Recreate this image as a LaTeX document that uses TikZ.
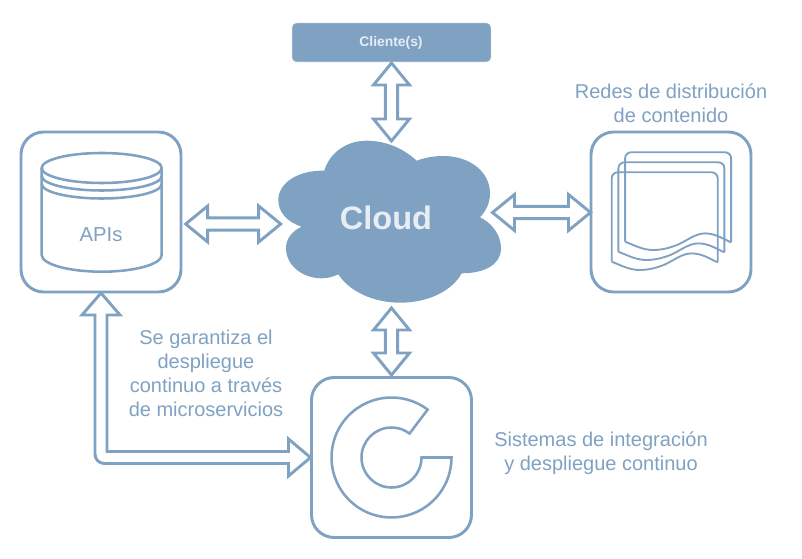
\documentclass[tikz,border=0pt]{standalone}
\usepackage{fontspec}
\setmainfont{Liberation Sans}
\usetikzlibrary{calc}
\definecolor{steel}{HTML}{7FA1C2}
\definecolor{paleink}{HTML}{E8EDF3}
\tikzset{
  panel/.style={draw=steel,line width=2.2pt,rounded corners=17pt,minimum width=120pt,minimum height=120pt,inner sep=0pt,outer sep=0pt,fill=white},
  clientbox/.style={fill=steel,draw=steel!70!white,line width=.5pt,rounded corners=3.5pt,minimum width=149pt,minimum height=29pt,inner sep=0pt,outer sep=0pt},
  clienttext/.style={text=paleink,font=\bfseries\fontsize{10.4}{12}\selectfont},
  cloudtext/.style={text=paleink,font=\bfseries\fontsize{24.4}{28}\selectfont,inner sep=0pt},
  caption/.style={text=steel,font=\fontsize{15}{18}\selectfont,align=center,inner sep=0pt},
  hollow/.style={draw=steel,line width=2.2pt,fill=white,miter limit=10},
  iconline/.style={draw=steel,line width=1.9pt},
  pageline/.style={draw=steel,line width=1.4pt},
}
\newcommand{\dblarrow}[2]{%
  \draw[hollow] (#1)
    -- ($(#1)!16.5pt!(#2)!13.5pt!90:(#2)$)
    -- ($(#1)!16.5pt!(#2)!4.6pt!90:(#2)$)
    -- ($(#2)!16.5pt!(#1)!4.6pt!-90:(#1)$)
    -- ($(#2)!16.5pt!(#1)!13.5pt!-90:(#1)$)
    -- (#2)
    -- ($(#2)!16.5pt!(#1)!13.5pt!90:(#1)$)
    -- ($(#2)!16.5pt!(#1)!4.6pt!90:(#1)$)
    -- ($(#1)!16.5pt!(#2)!4.6pt!-90:(#2)$)
    -- ($(#1)!16.5pt!(#2)!13.5pt!-90:(#2)$)
    -- cycle;}
\begin{document}
\begin{tikzpicture}[x=0.75pt,y=-0.75pt]
\useasboundingbox (0,0) rectangle (802,559);

% cloud
\fill[steel] (324.3,170.7)
  .. controls (330,152) and (347,140.7) .. (366.7,140.7)
  .. controls (385,140.7) and (403,148) .. (416.7,160.7)
  .. controls (425,157.5) and (434,156) .. (443.3,156)
  .. controls (470,156) and (490,172) .. (490,193.3)
  .. controls (490,203) and (486,211) .. (480,217.3)
  .. controls (492,223) and (501,235) .. (501,248.3)
  .. controls (501,265) and (484,273.3) .. (461.7,273.3)
  .. controls (452,291) and (428,302.7) .. (400,302.7)
  .. controls (373,302.7) and (349,291) .. (338.3,274.3)
  .. controls (333,277) and (327,278.3) .. (321.7,278.3)
  .. controls (302,278.3) and (286,265) .. (286,248.3)
  .. controls (286,239) and (292,231) .. (301.7,226.7)
  .. controls (287,222) and (278.3,212) .. (278.3,200)
  .. controls (278.3,183) and (298,170) .. (324.3,170.7) -- cycle;
\node[cloudtext] (cloud) at (386,217.5) {Cloud};
\coordinate (cloudN) at (391.5,141);
\coordinate (cloudW) at (280.7,224);
\coordinate (cloudE) at (492.5,212.5);
\coordinate (cloudS) at (391.5,308);

% boxes
\node[clientbox] (client) at (391.5,42.5) {};
\node[clienttext] (clientlabel) at (391,43) {Cliente(s)};
\node[panel] (apis) at (101,212) {};
\node[panel] (cdn) at (671,212) {};
\node[panel] (ci) at (391.5,457.5) {};

\coordinate (apisE) at (185.7,224);
\coordinate (clientS) at (391.5,63);
\coordinate (ciN) at (391.5,375);
\coordinate (cdnW) at (590.5,212.5);

% connectors
\dblarrow{clientS}{cloudN}
\dblarrow{apisE}{cloudW}
\dblarrow{cloudE}{cdnW}
\dblarrow{cloudS}{ciN}
\coordinate (ltip) at ($(apis.south)+(0,1)$);
\coordinate (rtip) at ($(ci.west)+(-1,0)$);
\draw[hollow,fill=none] (ltip)
  -- ($(ltip)+(19,22)$) -- ($(ltip)+(6,22)$)
  -- ($(ltip|-rtip)+(6,-6)$)
  -- ($(rtip)+(-22,-6)$) -- ($(rtip)+(-22,-18.5)$)
  -- (rtip)
  -- ($(rtip)+(-22,18.5)$) -- ($(rtip)+(-22,6)$)
  [rounded corners=7pt] -- ($(ltip|-rtip)+(-6,6)$)
  [sharp corners] -- ($(ltip)+(-6,22)$) -- ($(ltip)+(-19,22)$) -- cycle;

% cylinder
\draw[iconline] (101.7,168) ellipse [x radius=60,y radius=15];
\draw[iconline] (41.7,168) -- (41.7,255)
  arc[start angle=180,end angle=0,x radius=60,y radius=16.7] -- (161.7,168);
\draw[iconline] (41.7,176) arc[start angle=180,end angle=0,x radius=60,y radius=14.5];
\draw[iconline] (41.7,184) arc[start angle=180,end angle=0,x radius=60,y radius=14.5];
\node[caption,font=\fontsize{15.2}{18}\selectfont] (apilabel) at (101,235) {APIs};

% document stack
\foreach \dx/\dy in {0/0,6.7/-10,13.4/-20}{
  \begin{scope}[shift={(611.7+\dx,261.7+\dy)}]
    \draw[pageline,rounded corners=4.5pt] (0,0) -- (0,-89.4) -- (106,-89.4) -- (106,0.7);
    \draw[pageline] (0,0) .. controls (10,4) and (18,8.3) .. (28,8.3)
      .. controls (38,8.3) and (46,5.5) .. (52,3.3)
      .. controls (62,-1) and (70,-8.3) .. (80,-8.3)
      .. controls (90,-8.3) and (98,-3) .. (106,0.7);
  \end{scope}
}

% C icon
\draw[iconline] (ci.center) ++(-53:60) arc[start angle=-53,end angle=-360,radius=60]
  -- ++(-30,0) arc[start angle=-360,end angle=-53,radius=30] -- cycle;

% captions
\node[caption] (cdnlabel) at (671,103) {Redes de distribución\\de contenido};
\node[caption] (msg) at (206,373) {Se garantiza el\\despliegue\\continuo a través\\de microservicios};
\node[caption] (cilabel) at (601,453) {Sistemas de integración\\y despliegue continuo};
\end{tikzpicture}
\end{document}
